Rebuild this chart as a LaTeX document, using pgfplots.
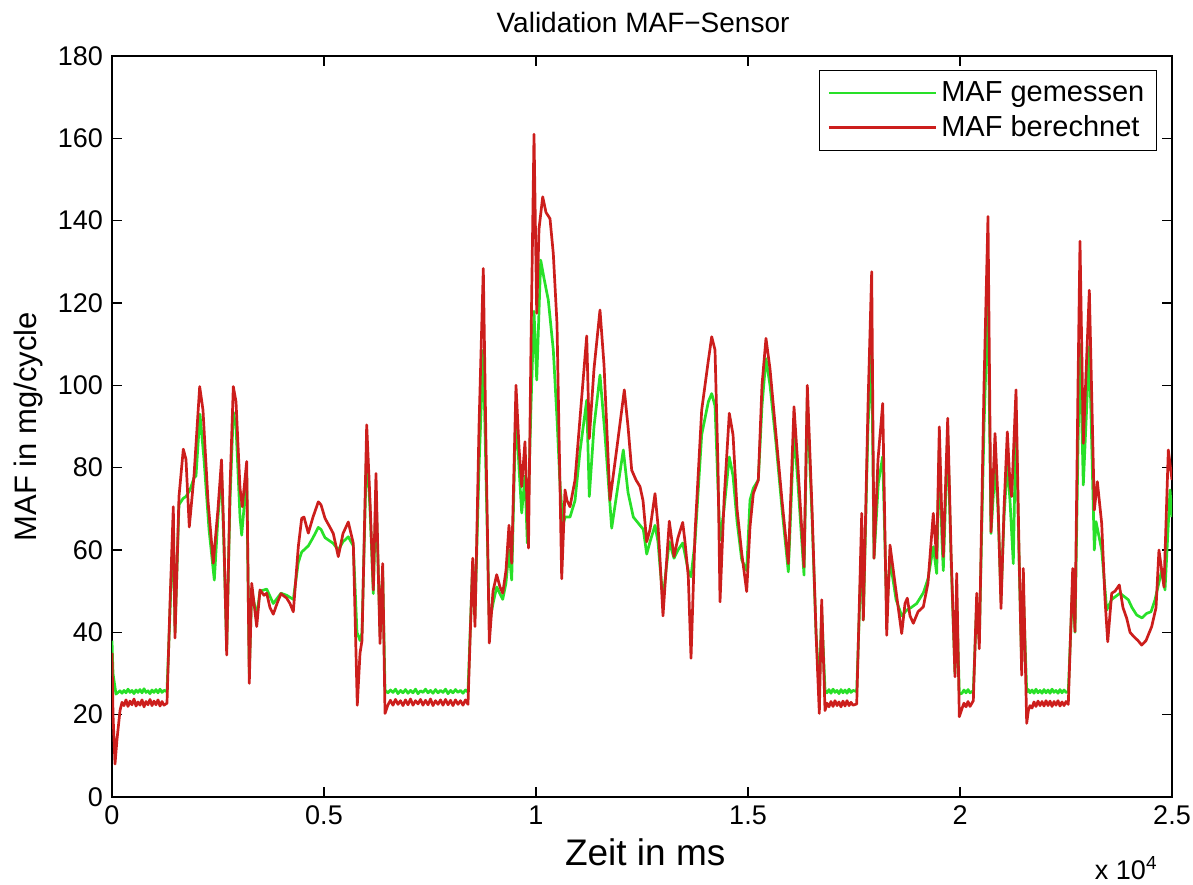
\documentclass[border=0pt]{standalone}
\usepackage{fontspec}
\setmainfont{Liberation Sans}
\usepackage{pgfplots}
\pgfplotsset{compat=1.18}
\definecolor{mafgreen}{RGB}{40,224,40}
\definecolor{mafred}{RGB}{204,30,28}
\begin{document}
\begin{tikzpicture}
\path[use as bounding box] (-56pt,-43.5pt) rectangle (540.5pt,398.5pt);
\begin{axis}[
  at={(0,0)}, anchor=south west,
  scale only axis, width=530pt, height=370.5pt,
  xmin=0, xmax=25000, ymin=0, ymax=180,
  xtick={0,5000,10000,15000,20000,25000},
  xticklabels={0,0.5,1,1.5,2,2.5},
  ytick={0,20,...,180},
  scaled x ticks=false,
  tick align=inside, tick pos=both, major tick length=5pt,
  axis line style={line width=0.8pt},
  every tick/.style={black, line width=0.6pt},
  ticklabel style={font=\fontsize{13.5}{15}\selectfont},
  xticklabel style={yshift=-1pt},
  yticklabel style={xshift=-1pt},
  /pgf/number format/assume math mode=true,
  clip mode=individual,
  legend cell align=left,
  legend style={at={(1,1)}, anchor=north east, xshift=-7.5pt, yshift=-7pt,
    font=\fontsize{14.5}{16}\selectfont, draw=black, line width=0.6pt,
    inner xsep=4pt, inner ysep=3.5pt, row sep=1.5pt},
  legend image code/.code={%
    \path (-2pt,0pt) -- (51.5pt,0pt);
    \draw[#1, line width=0.8pt] (0pt,0pt) -- (47pt,0pt);},
]
% measured air mass flow
\addplot[mafgreen, line width=1.35pt, line join=round] coordinates {
(0,38) (24,30) (94,25) (189,25.8) (236,25.2) (283,25.9) (330,25.3) (377,26.2) (425,25.4) (472,25.9)
(519,25.1) (566,26) (613,25.4) (660,26.1) (708,25.3) (755,26.3) (802,25.4) (849,25.8) (896,25.1)
(943,26) (990,25.4) (1038,26.1) (1085,25.3) (1132,26.2) (1179,25.4) (1226,25.9) (1297,25.6)
(1368,45) (1446,66) (1486,40) (1580,71) (1675,72.5) (1745,73) (1840,74.6) (1934,77.5)
(1981,78) (2075,93) (2170,82) (2288,65) (2413,52.7) (2500,68) (2583,79) (2642,60)
(2705,36) (2783,72) (2861,93.5) (2925,90) (3019,68) (3059,63.6) (3177,78) (3238,30)
(3295,50) (3413,44) (3491,50) (3649,50.5) (3804,47) (3986,49.5) (4120,49) (4276,48)
(4394,57) (4474,59.5) (4630,61) (4741,63) (4866,65.5) (4929,65) (5024,63) (5219,61.6)
(5337,60) (5448,62) (5573,63.2) (5691,61) (5778,40) (5849,38) (5896,40) (6007,85)
(6085,70) (6163,49.4) (6226,74) (6321,40) (6384,55) (6439,26)
(6509,25.3) (6568,26) (6627,25.4) (6686,26.2) (6745,25.1) (6804,25.9) (6863,25.3) (6922,26.1)
(6981,25.2) (7040,25.9) (7099,25.3) (7158,26.2) (7217,25.1) (7276,25.8) (7335,25.4) (7394,26.2)
(7453,25.3) (7512,25.9) (7571,25.2) (7630,26.1) (7689,25.3) (7748,25.9) (7807,25.4) (7866,26.2)
(7925,25.1) (7984,25.9) (8042,25.3) (8101,26.1) (8160,25.4) (8219,25.9) (8278,25.2) (8337,26)
(8396,25.5)
(8507,57) (8561,44) (8656,80) (8757,108.6) (8821,78) (8899,42) (8986,47) (9073,51)
(9215,48) (9292,52) (9363,60) (9427,52.7) (9528,94.8) (9599,80) (9663,69) (9740,78)
(9795,61.7) (9882,95) (9953,118) (10017,101.3) (10111,130.4) (10189,126) (10290,120.7)
(10408,108.6) (10495,92) (10566,76) (10637,66) (10684,68) (10802,68) (10920,72)
(11038,84) (11196,96.4) (11257,73) (11368,90) (11509,102.5) (11627,88) (11785,65.3)
(11910,74) (12059,84.3) (12170,74) (12295,68) (12453,66) (12531,65) (12611,59)
(12689,62) (12807,66) (12877,62) (12925,56) (12995,48) (13066,55) (13144,62)
(13255,58) (13349,60) (13460,61.7) (13592,55) (13656,53.5) (13750,62) (13908,88)
(14064,96) (14144,98) (14222,95) (14293,75) (14340,62.4) (14435,70) (14559,82.6)
(14647,78) (14741,67) (14852,57.6) (14969,55) (15047,72.1) (15125,75) (15243,77)
(15330,95) (15424,106.5) (15519,100) (15660,86) (15802,70) (15951,54.7) (16085,89)
(16179,76) (16321,53.9) (16399,96) (16510,68) (16604,40) (16682,26) (16738,45)
(16816,26)
(16863,25.3) (16910,26.1) (16957,25.2) (17005,26.2) (17052,25.4) (17099,25.9) (17146,25.1)
(17193,26.1) (17240,25.3) (17288,26) (17335,25.2) (17382,26.2) (17429,25.4) (17476,25.9)
(17564,25.6)
(17682,62) (17720,43) (17830,90) (17917,108) (17972,58) (18073,76.2) (18177,82.7)
(18271,45) (18349,57.6) (18491,48) (18625,44) (18743,45.4) (18844,46) (18979,47)
(19135,49.6) (19245,53) (19370,60.8) (19450,54.3) (19512,85) (19576,62) (19606,55)
(19710,88) (19788,58) (19882,30) (19922,48) (19984,25)
(20047,25.2) (20094,26) (20142,25.3) (20189,26.1) (20236,25.3) (20314,25.8)
(20394,47) (20455,38) (20566,90) (20660,121) (20731,64) (20826,80.2) (20896,70)
(20967,48) (21038,68) (21116,81) (21179,72) (21257,56.7) (21321,93) (21392,58)
(21455,32) (21493,50) (21573,25.5)
(21612,26.1) (21651,25.3) (21698,26) (21745,25.2) (21792,26.2) (21840,25.3) (21887,25.9)
(21934,25.2) (21981,26.1) (22028,25.3) (22076,26) (22123,25.2) (22170,26.2) (22217,25.4)
(22264,25.9) (22311,25.2) (22358,26.1) (22406,25.3) (22453,26) (22500,25.4) (22554,25.6)
(22658,52) (22712,40) (22783,85) (22830,110) (22908,75.8) (23050,109.4) (23168,60)
(23208,66.9) (23342,60) (23460,45.4) (23578,48) (23774,49.5) (23970,47.9) (24057,46)
(24168,44.2) (24293,43.5) (24403,44.6) (24505,45) (24599,47.9) (24758,55.1)
(24835,50.3) (24953,74.6) (25000,68)
};
\addlegendentry{MAF gemessen}
% computed air mass flow
\addplot[mafred, line width=1.35pt, line join=round] coordinates {
(0,35) (24,20) (71,8) (118,14) (189,21)
(236,23) (283,22.2) (330,23.6) (377,22) (425,23.3) (472,22.4) (519,23.8) (566,22.1) (613,23.1)
(660,22.3) (708,23.6) (755,21.9) (802,23.2) (849,22.4) (896,23.7) (943,22.2) (990,23.3)
(1038,22.4) (1085,23.6) (1132,22.1) (1179,23.2) (1226,22.3) (1297,22.8)
(1368,47) (1446,70.5) (1486,38.6) (1580,73) (1682,84.5) (1745,82) (1823,65.6)
(1934,78) (2068,99.7) (2146,94) (2264,72) (2389,56.8) (2500,70) (2583,81.9)
(2642,62) (2705,34.5) (2783,75) (2861,99.7) (2925,96) (3019,75) (3073,70.5)
(3177,81.5) (3238,27.6) (3295,51.9) (3413,41.4) (3491,50.3) (3585,49) (3649,49.5)
(3726,46) (3804,44.4) (3892,47) (3986,49.4) (4120,48.3) (4198,47) (4276,45)
(4394,60.8) (4474,67.7) (4528,68) (4630,64.1) (4741,68) (4866,71.7) (4929,71)
(5024,67.7) (5142,65.5) (5219,64) (5337,58.4) (5448,64) (5573,66.8) (5691,61.6)
(5785,22.3) (5849,34.9) (5896,38) (6007,90.4) (6085,72) (6163,50.3) (6226,78.6)
(6321,37.3) (6384,56.7) (6439,20.3)
(6509,22.4) (6568,23.5) (6627,22.3) (6686,23.7) (6745,22.5) (6804,23.4) (6863,22.2) (6922,23.6)
(6981,22.4) (7040,23.8) (7099,22.3) (7158,23.4) (7217,22.6) (7276,23.7) (7335,22.3) (7394,23.5)
(7453,22.4) (7512,23.8) (7571,22.2) (7630,23.4) (7689,22.5) (7748,23.6) (7807,22.3) (7866,23.7)
(7925,22.4) (7984,23.5) (8042,22.2) (8101,23.6) (8160,22.5) (8219,23.4) (8278,22.3) (8337,23.6)
(8396,22.5)
(8507,58) (8561,41.4) (8656,90) (8757,128.4) (8821,85) (8899,37.4) (8986,50)
(9073,54) (9151,51) (9215,49.5) (9292,55) (9363,66) (9427,56.8) (9528,100)
(9599,85) (9663,75.4) (9740,86.3) (9795,69) (9823,60.5) (9882,110) (9953,161)
(10017,117.5) (10071,138) (10158,145.8) (10236,142) (10330,140.5) (10408,132)
(10495,115) (10606,53) (10684,74.6) (10731,72) (10802,70.5) (10920,77) (11038,92)
(11196,112) (11257,87.1) (11368,104) (11509,118.3) (11604,105) (11745,72.1)
(11910,85) (12083,98.9) (12170,90) (12257,79.4) (12359,77) (12453,75.4) (12524,72)
(12611,62) (12689,65) (12807,73.7) (12877,66) (12925,57.6) (12995,44) (13066,55)
(13144,67) (13208,62) (13255,58.4) (13349,63) (13460,66.7) (13514,62) (13592,53.5)
(13656,33.7) (13750,64) (13908,94) (14064,106) (14144,111.8) (14222,108.6)
(14293,80) (14340,47.4) (14435,72) (14559,93.2) (14647,88) (14741,70) (14852,59.2)
(14969,49.9) (15047,65.6) (15125,73.7) (15243,77) (15330,100) (15424,111.4)
(15519,104) (15660,88) (15802,72) (15951,56.7) (16085,94.8) (16179,80) (16321,55.9)
(16399,100) (16510,70) (16604,40) (16682,20.3) (16738,47.9) (16816,21)
(16863,22.8) (16910,21.9) (16957,23.2) (17005,22) (17052,23.4) (17099,22.2) (17146,23.1)
(17193,21.9) (17240,23.3) (17288,22.1) (17335,23.4) (17382,22.2) (17429,23) (17476,22.3)
(17564,22.6)
(17682,68.9) (17720,43) (17830,95) (17917,127.6) (17972,58) (18066,82) (18177,95.6)
(18271,39.3) (18349,61.2) (18491,50) (18625,39.7) (18703,47) (18757,48.3)
(18821,44) (18899,42.2) (19010,45) (19135,46.2) (19245,52) (19370,68.9) (19450,58)
(19512,89.9) (19576,66) (19606,58.4) (19710,92) (19788,60) (19882,29.2) (19922,54.3)
(19984,19.5)
(20047,21.5) (20094,22.8) (20142,21.9) (20189,23.2) (20236,22) (20314,23.4)
(20394,49.5) (20455,36) (20566,100) (20660,141) (20731,64.4) (20826,88.3)
(20896,72) (20967,45.8) (21038,70) (21116,88.7) (21179,76) (21219,73) (21321,98.9)
(21392,60) (21455,29.6) (21493,55.5) (21573,17.9)
(21612,21) (21651,22.2) (21698,21.6) (21745,23.1) (21792,22) (21840,23.3) (21887,22.2)
(21934,23.2) (21981,22.1) (22028,23.4) (22076,22.2) (22123,23.3) (22170,22) (22217,23.2)
(22264,22.3) (22311,23.4) (22358,22.1) (22406,23.1) (22453,22.2) (22500,23.2) (22554,22.5)
(22658,55.5) (22712,40.2) (22783,100) (22830,135) (22908,85.9) (23050,123.1)
(23168,69.7) (23239,76.6) (23342,66.4) (23420,48) (23484,37.7) (23578,49.5)
(23656,50) (23757,51.5) (23844,46) (23932,43.4) (24010,40) (24104,38.9) (24198,38)
(24285,36.9) (24387,38) (24521,41.4) (24623,46) (24692,60) (24811,51) (24913,84.3)
(25000,77)
};
\addlegendentry{MAF berechnet}
\node[font=\fontsize{14}{16}\selectfont] at ([yshift=17pt]rel axis cs:0.501,1) {Validation MAF−Sensor};
\node[font=\fontsize{18.5}{20}\selectfont] at ([yshift=-27.5pt]rel axis cs:0.503,0) {Zeit in ms};
\node[font=\fontsize{13.5}{15}\selectfont, anchor=east] at ([yshift=-35.5pt]rel axis cs:0.993,0) {x 10\textsuperscript{4}};
\node[font=\fontsize{15.5}{17}\selectfont, rotate=90] at ([xshift=-42pt]rel axis cs:0,0.5) {MAF in mg/cycle};
\end{axis}
\end{tikzpicture}
\end{document}
